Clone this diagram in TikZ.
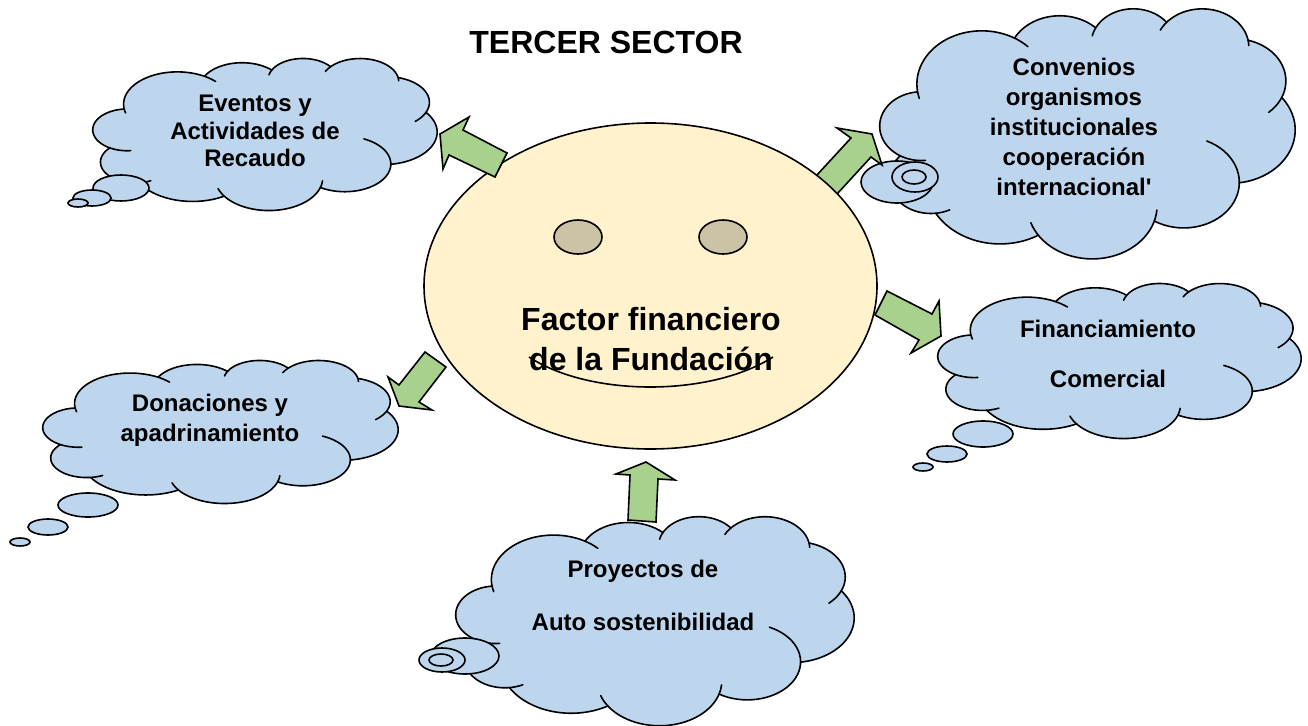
\documentclass[tikz,border=0pt]{standalone}
\usepackage{fontspec}
\setmainfont{Liberation Sans}
\newfontfamily\plainfont{Liberation Sans}
\definecolor{cloudblue}{HTML}{BDD6EE}
\definecolor{arrowgreen}{HTML}{A9D18E}
\definecolor{facecream}{HTML}{FFF2CC}
\definecolor{eyetan}{HTML}{CCC2A6}
\tikzset{
  ink/.style={draw=black,line width=1.6pt},
  bubble/.style={ink,fill=cloudblue},
  blockarrow/.style={ink,fill=arrowgreen,line join=miter,miter limit=10},
  eye/.style={ink,fill=eyetan},
  cloudfill/.style={fill=cloudblue,draw=cloudblue,line width=.6pt},
  cloudline/.style={ink,line cap=round,line join=round},
  cloudtext/.style={font=\bfseries\fontsize{24}{#1}\selectfont,align=center,text=black,inner sep=0pt},
  bigtext/.style={font=\bfseries\fontsize{32}{40}\selectfont,align=center,text=black,inner sep=0pt}
}
% one lobe of the cloud: wR hR start sweep extension-back extension-forward style
\newcommand{\lobe}[7]{%
  \pgfmathsetmacro{\tA}{atan2(#1*sin(#3),#2*cos(#3))}%
  \pgfmathsetmacro{\tB}{atan2(#1*sin(#3+#4),#2*cos(#3+#4))}%
  \pgfmathsetmacro{\tB}{\tA+mod(\tB-\tA+720,360)}%
  \pgfmathsetmacro{\cxx}{\curx-#1*cos(\tA)}%
  \pgfmathsetmacro{\cyy}{\cury-#2*sin(\tA)}%
  \pgfmathsetmacro{\ta}{\tA-#5}%
  \pgfmathsetmacro{\tb}{\tB+#6}%
  \path[#7] plot[domain=\ta:\tb,samples=36] ({\cxx+#1*cos(\x)},{\cyy+#2*sin(\x)});%
  \pgfmathsetmacro{\nx}{\cxx+#1*cos(\tB)}%
  \pgfmathsetmacro{\ny}{\cyy+#2*sin(\tB)}%
  \global\let\curx\nx \global\let\cury\ny
  \xdef\polypts{\polypts -- (\nx,\ny)}%
}
\newcommand{\cloudpass}[1]{%
  \gdef\curx{3.9}\gdef\cury{14.37}\gdef\polypts{(3.9,14.37)}%
  \lobe{6.753}{9.190}{-190.4875}{123.7805}{8}{15}{#1}%
  \lobe{5.333}{7.267}{-144.1024}{89.9452}{0}{0}{#1}%
  \lobe{4.365}{5.945}{-145.8079}{99.7230}{14}{0}{#1}%
  \lobe{4.857}{6.595}{-130.9861}{117.2417}{14}{8}{#1}%
  \lobe{5.333}{7.273}{-78.7089}{109.0269}{0}{25}{#1}%
  \lobe{6.775}{9.220}{-46.2673}{130.269}{0}{0}{#1}%
  \lobe{5.785}{7.867}{0.6250}{114.0333}{66}{0}{#1}%
  \lobe{6.752}{9.215}{22.4516}{115.1726}{12}{15}{#1}%
  \lobe{7.720}{10.543}{66.2426}{75.7110}{0}{0}{#1}%
  \lobe{4.360}{5.918}{-274.9421}{146.7356}{20}{0}{#1}%
  \lobe{4.345}{5.945}{-246.8285}{152.5189}{36}{0}{#1}%
}
\newcommand{\cloudshape}[4]{%
  \pgfmathsetmacro{\sx}{#3/43.2}\pgfmathsetmacro{\sy}{#4/43.2}%
  \begin{scope}[shift={(#1,#2)},x=\sx pt,y=-\sy pt]
    \cloudpass{cloudfill}
    \path[cloudfill] \polypts -- cycle;
    \cloudpass{cloudline}
  \end{scope}}
\begin{document}
\begin{tikzpicture}[x=1pt,y=-1pt]
\useasboundingbox[fill=white] (0,0) rectangle (1308,725);

\node[font=\bfseries\fontsize{32}{38}\selectfont,inner sep=0pt] (titulo) at (606,42) {TERCER SECTOR};

% clouds
\cloudshape{880}{8}{415}{250}
\cloudshape{93}{58}{344}{152}
\cloudshape{43}{360}{355}{143}
\cloudshape{456}{516}{398}{209}
\cloudshape{938}{283}{363}{155}

% thought bubbles
\draw[bubble] (121,188) ellipse [x radius=28,y radius=13];
\draw[bubble] (92,198) ellipse [x radius=19,y radius=8];
\draw[bubble] (78,203) ellipse [x radius=10,y radius=4];
\draw[bubble] (88,505) ellipse [x radius=30,y radius=12];
\draw[bubble] (48,527) ellipse [x radius=20,y radius=8];
\draw[bubble] (20,542) ellipse [x radius=10,y radius=4];
\draw[bubble] (983,434) ellipse [x radius=30,y radius=13];
\draw[bubble] (947,454) ellipse [x radius=20,y radius=8];
\draw[bubble] (923,467) ellipse [x radius=10,y radius=4];
\draw[bubble] (465,656) ellipse [x radius=34,y radius=18];
\draw[bubble] (442,660) ellipse [x radius=23,y radius=12];
\draw[bubble] (441,660) ellipse [x radius=12,y radius=6];
\draw[bubble] (897,182) ellipse [x radius=36,y radius=21];
\draw[bubble] (915,177) ellipse [x radius=23,y radius=15];
\draw[bubble] (914,177) ellipse [x radius=12,y radius=7];

% arrow under the face
\draw[blockarrow] (882,165)--(872,134)--(837,128)--(851,138)--(805,188)--(826,206)--(871,157)--cycle;

% face
\draw[ink,fill=facecream] (650.5,286) ellipse [x radius=226.5,y radius=163];
\draw[eye] (578,237) ellipse [x radius=24,y radius=17];
\draw[eye] (723,237) ellipse [x radius=24,y radius=17];
\draw[ink] (529,357) .. controls (590,397) and (710,397) .. (773,357);

% arrows over the face
\draw[blockarrow] (440,134)--(469,117)--(463,130)--(507,153)--(495,177)--(449,155)--(443,169)--cycle;
\draw[blockarrow] (941,336)--(939,301)--(932,314)--(887,291)--(875,315)--(919,340)--(911,353)--cycle;
\draw[blockarrow] (399,406)--(388,377)--(399,385)--(425,352)--(446,367)--(419,402)--(432,410)--cycle;
\draw[blockarrow] (646,462)--(675,480)--(658,479)--(656,522)--(628,520)--(630,475)--(616,474)--cycle;

% texts
\node[bigtext] (factor) at (651,339) {Factor financiero\\de la Fundación};
\node[cloudtext=30] (convenios) at (1074,127) {Convenios\\organismos\\institucionales\\cooperación\\internacional{\plainfont\bfseries '}};
\node[cloudtext=27.5] (eventos) at (255,131) {Eventos y\\Actividades de\\Recaudo};
\node[cloudtext=30] (donaciones) at (210,420.5) {Donaciones y\\apadrinamiento};
\node[cloudtext=53] (proyectos) at (643,595) {Proyectos de\\Auto sostenibilidad};
\node[cloudtext=50] (financiamiento) at (1108,354) {Financiamiento\\Comercial};
\end{tikzpicture}
\end{document}
